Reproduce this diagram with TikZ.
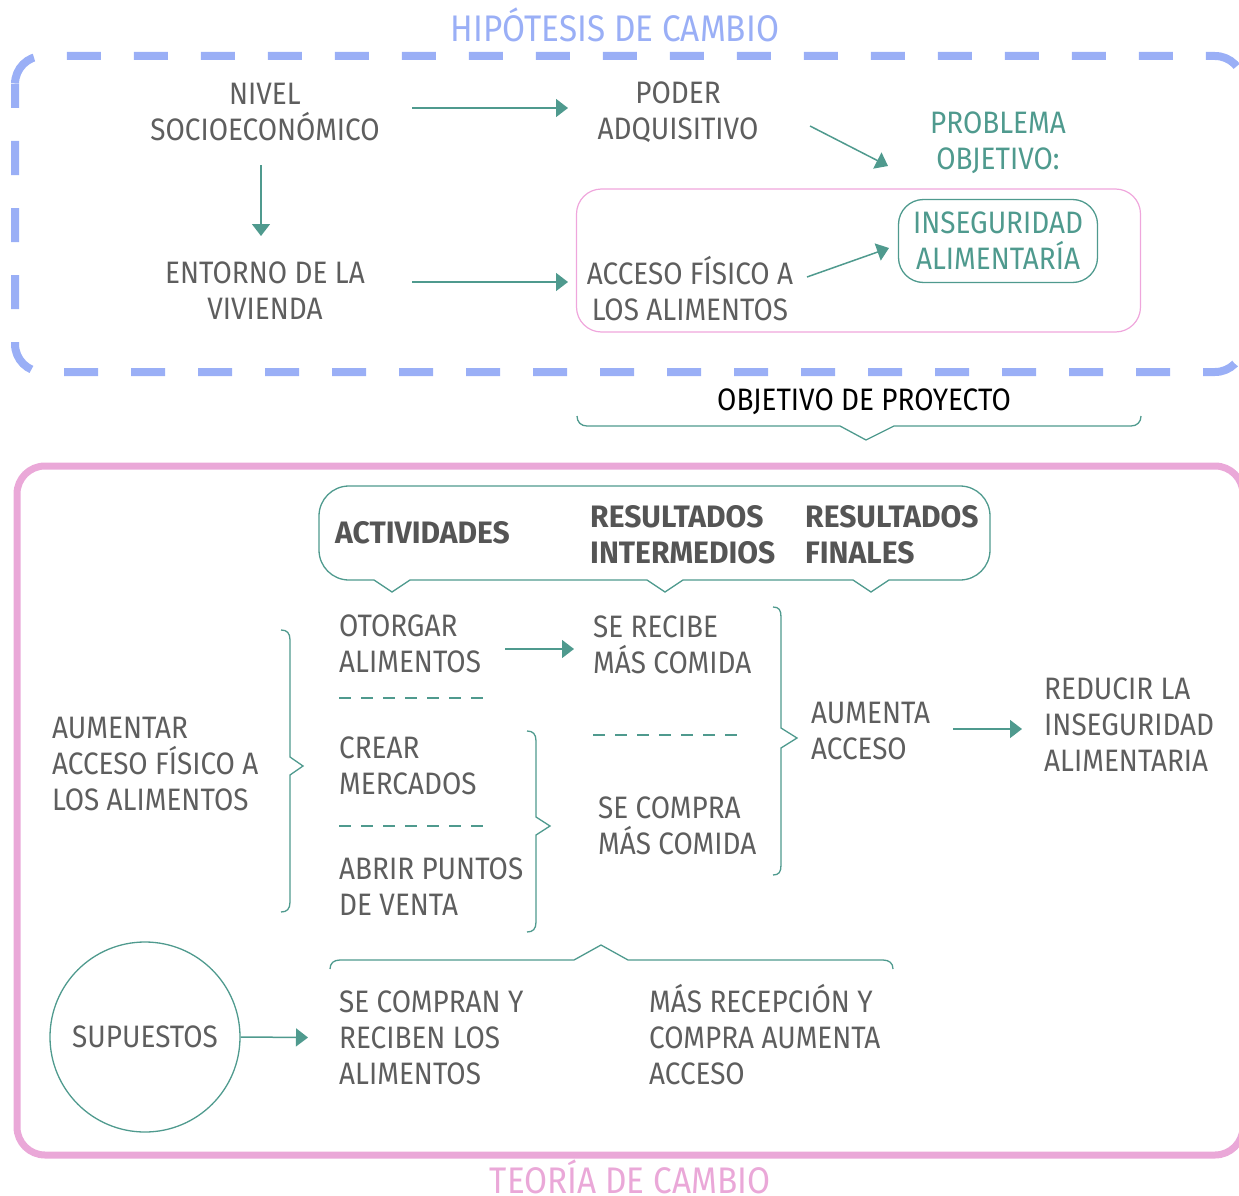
\documentclass[tikz,border=0pt]{standalone}
\usepackage{fontspec}
\setmainfont{Fira Sans}[FakeStretch=0.9]
\newfontfamily\hdfont{Fira Sans}[FakeStretch=0.97]
\usetikzlibrary{arrows.meta}
\definecolor{hipblue}{HTML}{9AAFF6}
\definecolor{pinkthick}{HTML}{EAA8D8}
\definecolor{pinkthin}{HTML}{EFA6DC}
\definecolor{tealc}{HTML}{4F9A8E}
\definecolor{txtgray}{HTML}{5E5E5E}
\begin{document}
\begin{tikzpicture}[x=1pt,y=-1pt,
  txt/.style={font=\fontsize{31}{36}\selectfont, text=txtgray, align=center, inner sep=0pt},
  ltxt/.style={txt, align=left, anchor=west},
  htxt/.style={font=\hdfont\fontsize{31}{36}\selectfont\bfseries, text=txtgray!90!black, align=left, anchor=west, inner sep=0pt},
  gtxt/.style={txt, text=tealc},
  title/.style={font=\fontsize{37}{40}\selectfont, inner sep=0pt},
  arr/.style={draw=tealc, line width=1.5pt, -{Triangle[length=12pt,width=18pt]}},
  thin/.style={draw=tealc, line width=1.3pt},
  dline/.style={draw=tealc, line width=1.4pt, dash pattern=on 12pt off 10pt},
]
\useasboundingbox (0,0) rectangle (1239,1196);

% frames
\draw[hipblue, line width=8pt, dash pattern=on 34pt off 33pt, dash phase=10pt, rounded corners=28pt]
  (15,56) rectangle (1243,372);
\draw[pinkthick, line width=7pt, rounded corners=28pt] (17,466) rectangle (1243,1155);

\node[title, text=hipblue] (hip) at (615,25) {HIPÓTESIS DE CAMBIO};
\node[title, text=pinkthick] (teo) at (630,1177) {TEORÍA DE CAMBIO};

% top section
\node[txt] (nivel) at (265,112) {NIVEL\\SOCIOECONÓMICO};
\node[txt] (poder) at (678,112) {PODER\\ADQUISITIVO};
\node[gtxt] (prob) at (998,143) {PROBLEMA\\OBJETIVO:};
\node[txt] (entorno) at (265,291) {ENTORNO DE LA\\VIVIENDA};
\node[draw=pinkthin, line width=1.2pt, rounded corners=25pt, minimum width=564pt, minimum height=143pt] (objbox) at (858.5,260.5) {};
\node[txt] (acceso) at (690,289) {ACCESO FÍSICO A\\LOS ALIMENTOS};
\node[gtxt, draw=tealc, line width=1.3pt, rounded corners=25pt, minimum width=199pt, minimum height=83pt] (inseg) at (998,241) {INSEGURIDAD\\ALIMENTARÍA};

\draw[arr] ([shift={(147,-4)}]nivel.center) -- ([shift={(-110,-4)}]poder.center);
\draw[arr] ([shift={(132,14)}]poder.center) -- ([shift={(-110,23)}]prob.center);
\draw[arr] ([shift={(-4,53)}]nivel.center) -- ([shift={(-4,-55)}]entorno.center);
\draw[arr] ([shift={(147,-9)}]entorno.center) -- ([shift={(-122,-7)}]acceso.center);
\draw[arr] ([shift={(117,-12)}]acceso.center) -- ([shift={(-109,7)}]inseg.center);

\node[txt, text=black] (objp) at (864,402) {OBJETIVO DE PROYECTO};
\draw[thin] (577,416) .. controls (577,422) and (581,426) .. (587,426) -- (840,426) -- (866,440) -- (894,426) -- (1131,426) .. controls (1137,426) and (1141,422) .. (1141,416);

% header callout
\draw[thin] (349,486) -- (960,486) .. controls (976.6,486) and (990,499.4) .. (990,516) -- (990,550)
  .. controls (990,566.6) and (976.6,580) .. (960,580) -- (889,580) -- (871,592) -- (853,580)
  -- (683,580) -- (665,592) -- (647,580) -- (410,580) -- (392,592) -- (374,580) -- (349,580)
  .. controls (332.4,580) and (319,566.6) .. (319,550) -- (319,516) .. controls (319,499.4) and (332.4,486) .. (349,486) -- cycle;
\node[htxt] (act) at (335,533) {ACTIVIDADES};
\node[htxt] (rint) at (590,535) {RESULTADOS\\INTERMEDIOS};
\node[htxt] (rfin) at (805,535) {RESULTADOS\\FINALES};

% body
\node[ltxt] (aumentar) at (52,763.5) {AUMENTAR\\ACCESO FÍSICO A\\LOS ALIMENTOS};
\node[ltxt] (otorgar) at (339,643.5) {OTORGAR\\ALIMENTOS};
\node[ltxt] (crear) at (339,766) {CREAR\\MERCADOS};
\node[ltxt] (abrir) at (339,887) {ABRIR PUNTOS\\DE VENTA};
\node[ltxt] (serecibe) at (593,645) {SE RECIBE\\MÁS COMIDA};
\node[ltxt] (secompra) at (598,826) {SE COMPRA\\MÁS COMIDA};
\node[ltxt] (aumenta) at (811,731) {AUMENTA\\ACCESO};
\node[ltxt] (reducir) at (1044,724.5) {REDUCIR LA\\INSEGURIDAD\\ALIMENTARIA};

\draw[arr] ([shift={(166,5.5)}]otorgar.west) -- ([shift={(-19,4)}]serecibe.west);
\draw[arr] ([shift={(142,-2)}]aumenta.west) -- ([shift={(-22,4.5)}]reducir.west);

\draw[dline] (339,698) -- (492,698);
\draw[dline] (339,826) -- (492,826);
\draw[dline] (593,735) -- (746,735);

% braces
\draw[thin] (281,630) .. controls (287,630) and (290,633) .. (290,640) -- (290,757) -- (303,766) -- (290,775) -- (290,902) .. controls (290,909) and (287,912) .. (281,912);
\draw[thin] (527,731) .. controls (533,731) and (536,734) .. (536,741) -- (536,817) -- (550,826) -- (536,835) -- (536,922) .. controls (536,929) and (533,932) .. (527,932);
\draw[thin] (773,607) .. controls (779,607) and (781,610) .. (781,617) -- (781,728) -- (797,738) -- (781,748) -- (781,865) .. controls (781,872) and (779,875) .. (773,875);

% bottom
\node[txt, draw=tealc, line width=1.3pt, circle, minimum size=190pt] (sup) at (145,1037) {SUPUESTOS};
\node[ltxt] (secompran) at (339,1037.5) {SE COMPRAN Y\\RECIBEN LOS\\ALIMENTOS};
\node[ltxt] (masrec) at (649,1034.5) {MÁS RECEPCIÓN Y\\COMPRA AUMENTA\\ACCESO};
\draw[arr] (sup.east) -- ([shift={(-31,0)}]secompran.west);
\draw[thin] (330,969) .. controls (330,963) and (334,960) .. (340,960) -- (574,960) -- (601,945) -- (628,960) -- (883,960) .. controls (889,960) and (893,963) .. (893,969);
\end{tikzpicture}
\end{document}
